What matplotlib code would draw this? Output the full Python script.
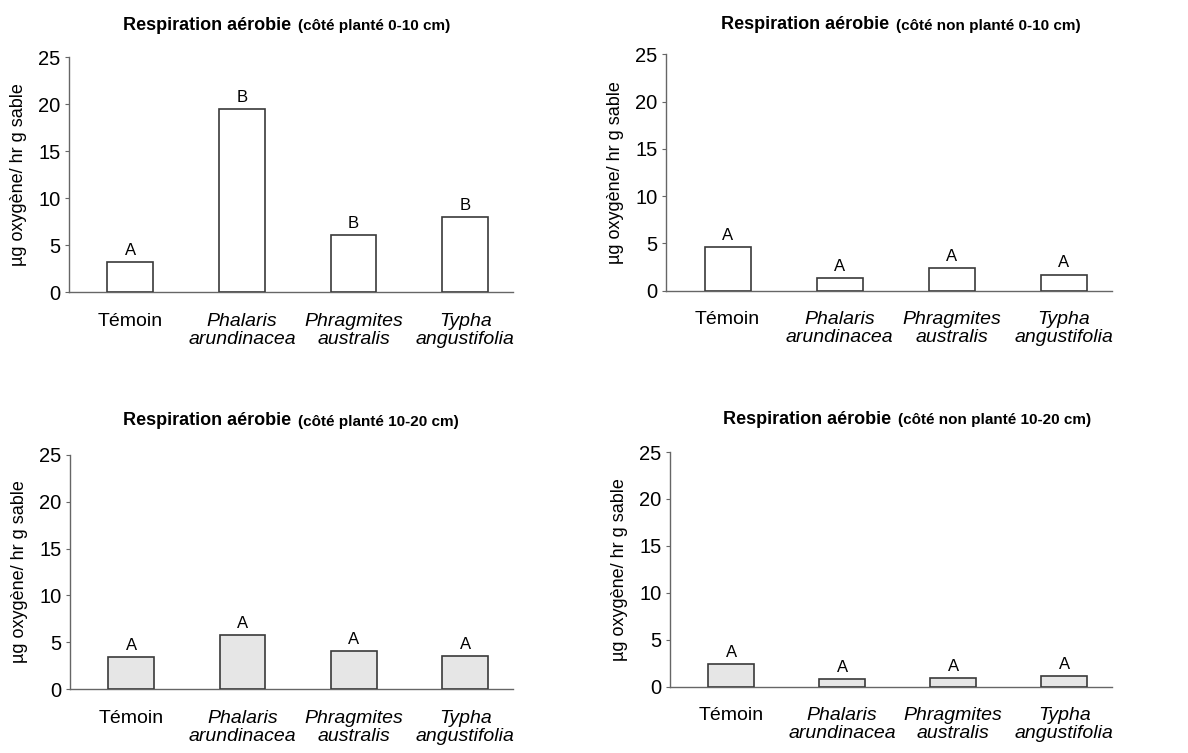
import numpy as np
import matplotlib
matplotlib.use('Agg')
import matplotlib.pyplot as plt

plt.rcParams['font.family'] = ['Liberation Sans', 'DejaVu Sans']

# data
categories = ['Témoin', 'Phalaris\narundinacea', 'Phragmites\naustralis', 'Typha\nangustifolia']
italic = [False, True, True, True]
plante_0_10 = [3.2, 19.5, 6.1, 8.0]
non_plante_0_10 = [4.6, 1.35, 2.4, 1.7]
plante_10_20 = [3.4, 5.8, 4.05, 3.55]
non_plante_10_20 = [2.4, 0.8, 0.95, 1.15]
letters_1 = ['A', 'B', 'B', 'B']
letters_2 = ['A', 'A', 'A', 'A']
letters_3 = ['A', 'A', 'A', 'A']
letters_4 = ['A', 'A', 'A', 'A']
subtitles = ['(côté planté 0-10 cm)', '(côté non planté 0-10 cm)',
             '(côté planté 10-20 cm)', '(côté non planté 10-20 cm)']
ylabel = 'µg oxygène/ hr g sable'

# values, letters, subtitle, fill, axes rect, title height
panels = [
    (plante_0_10, letters_1, subtitles[0], 'white', [0.058, 0.612, 0.374, 0.312], 1.137),
    (non_plante_0_10, letters_2, subtitles[1], 'white', [0.5606, 0.614, 0.3754, 0.314], 1.124),
    (plante_10_20, letters_3, subtitles[2], '#e6e6e6', [0.0589, 0.0846, 0.373, 0.3115], 1.145),
    (non_plante_10_20, letters_4, subtitles[3], '#e6e6e6', [0.564, 0.0881, 0.372, 0.3116], 1.14),
]

fig = plt.figure(figsize=(11.88, 7.53), dpi=100)
axis_col = '#666666'

for values, letters, sub, fill, rect, ty in panels:
    ax = fig.add_axes(rect)
    x = np.arange(len(categories))
    bars = ax.bar(x, values, width=0.41, color=fill, edgecolor='#3a3a3a', linewidth=1.2, zorder=3)
    for b, lab in zip(bars, letters):
        ax.annotate(lab, (b.get_x() + b.get_width() / 2, b.get_height()),
                    xytext=(0, 3), textcoords='offset points',
                    ha='center', va='bottom', fontsize=12)
    ax.set_xlim(-0.55, 3.43)
    ax.set_ylim(0, 25)
    ax.set_yticks([0, 5, 10, 15, 20, 25])
    ax.set_xticks(x)
    ax.set_xticklabels(categories, fontsize=14, linespacing=1.05, va='top')
    for lbl, it in zip(ax.get_xticklabels(), italic):
        if it:
            lbl.set_fontstyle('italic')
    ax.tick_params(axis='x', length=0, pad=15)
    ax.tick_params(axis='y', length=3, width=0.8, color=axis_col, labelsize=14.5, pad=3)
    for s in ['top', 'right']:
        ax.spines[s].set_visible(False)
    for s in ['left', 'bottom']:
        ax.spines[s].set_color(axis_col)
        ax.spines[s].set_linewidth(1.0)
    ax.set_ylabel(ylabel, fontsize=13)
    ax.yaxis.set_label_coords(-0.095, 0.5)
    t1 = ax.text(0.5, ty, 'Respiration aérobie', transform=ax.transAxes,
                 ha='right', va='center', fontsize=13, fontweight='bold')
    ax.annotate(sub, xy=(1, 0), xycoords=t1, xytext=(5, 0.5),
                textcoords='offset points', ha='left', va='bottom',
                fontsize=11, fontweight='bold')

fig.savefig('out.png', dpi=100)
